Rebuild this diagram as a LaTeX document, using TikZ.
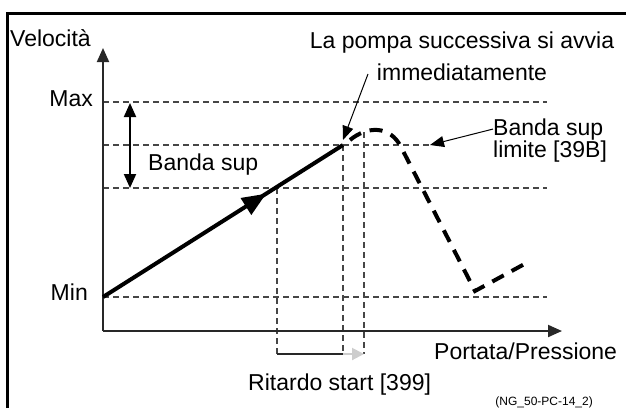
\documentclass[tikz,border=0pt]{standalone}
\usepackage{fontspec}
\setmainfont{Liberation Sans}
\usetikzlibrary{arrows.meta,decorations.markings}
\definecolor{pc_dark}{RGB}{40,40,40}
\definecolor{pc_gray}{RGB}{70,70,70}
\definecolor{pc_light}{RGB}{205,205,205}

\begin{document}
\begin{tikzpicture}[
  x=1pt,y=-1pt,
  font=\fontsize{23}{27}\selectfont,
  lbl/.style={inner sep=0pt},
  axis/.style={line width=2pt,color=pc_dark,-{Triangle[length=14pt,width=12pt]}},
  guide/.style={line width=1.2pt,color=pc_gray,dash pattern=on 6pt off 4pt},
  pointer/.style={line width=1pt,-{Triangle[length=14pt,width=11pt]}},
  bandarrow/.style={line width=2pt,{Triangle[length=14pt,width=12pt]}-{Triangle[length=14pt,width=12pt]}},
  rise/.style={line width=4pt,postaction={decorate},
    decoration={markings,mark=at position 0.68 with {\arrow{Triangle[length=24pt,width=19pt]}}}},
  curve/.style={line width=4pt,dash pattern=on 13pt off 9pt},
  delaybar/.style={line width=2.5pt,color=pc_dark},
  delaytip/.style={line width=2pt,color=pc_light,-{Triangle[length=12pt,width=12pt]}}
]
\useasboundingbox (0,0) rectangle (626,408);
\draw[line width=3pt] (7,408) -- (7,13) -- (626,13);

\coordinate (orig) at (103,331);
\coordinate (ytip) at (103,48);
\coordinate (xtip) at (562,331);
\coordinate (pmin) at (103,297);
\coordinate (pup) at (343,145);
\coordinate (puptip) at (343,140);
\coordinate (maxL) at (103,102);
\coordinate (maxR) at (547,102);
\coordinate (upL) at (103,145);
\coordinate (upR) at (430,145);
\coordinate (loL) at (103,188);
\coordinate (loR) at (547,188);
\coordinate (minR) at (547,297);
\coordinate (vAt) at (277,188);
\coordinate (vAb) at (277,354);
\coordinate (vBb) at (343,354);
\coordinate (vCt) at (364,132);
\coordinate (vCb) at (364,354);
\coordinate (bandT) at (130,103);
\coordinate (bandB) at (130,188);
\coordinate (pompatail) at (368,74);

\draw[guide] (maxL) -- (maxR);
\draw[guide] (upL) -- (upR);
\draw[guide] (loL) -- (loR);
\draw[guide] (pmin) -- (minR);
\draw[guide] (vAt) -- (vAb);
\draw[guide] (pup) -- (vBb);
\draw[guide] (vCt) -- (vCb);

\draw[axis] (orig) -- (ytip);
\draw[axis] (orig) -- (xtip);
\draw[bandarrow] (bandT) -- (bandB);
\draw[rise] (pmin) -- (pup);
\draw[curve] (350,140) .. controls (367,126) and (390,125) .. (401,147) -- (475,291) -- (530,261);

\draw[delaybar] (vAb) -- (vBb);
\draw[delaytip] (vBb) -- (vCb);

\node[lbl,anchor=base west] (vel) at (10,46) {Velocità};
\node[lbl,anchor=base east] (max) at (93,106) {Max};
\node[lbl,anchor=base east] (min) at (88,300) {Min};
\node[lbl,anchor=base west] (band) at (148,170) {Banda sup};
\node[lbl,anchor=base] (pompa1) at (462,48) {La pompa successiva si avvia};
\node[lbl,anchor=base] (pompa2) at (462,80) {immediatamente};
\node[lbl,anchor=base west] (lim1) at (493,135) {Banda sup};
\node[lbl,anchor=base west] (lim2) at (493,157) {limite [39B]};
\node[lbl,anchor=base west] (flow) at (434,359) {Portata/Pressione};
\node[lbl,anchor=base west] (delay) at (248,390) {Ritardo start [399]};
\node[lbl,anchor=base east,font=\fontsize{12}{14}\selectfont] (code) at (593,405) {(NG\_50-PC-14\_2)};

\draw[pointer] (pompatail) -- (puptip);
\draw[pointer] (lim1.west) -- (upR);
\end{tikzpicture}
\end{document}
